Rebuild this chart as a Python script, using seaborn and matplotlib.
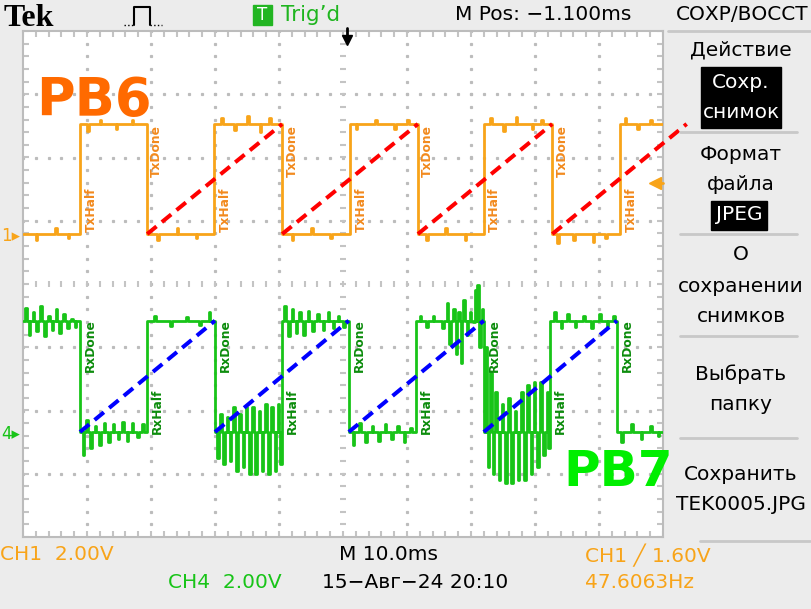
"""Tek scope screenshot: PB6 / PB7 DMA half / done timing."""

import matplotlib as mpl
mpl.use("Agg")
import matplotlib.pyplot as plt
from matplotlib.lines import Line2D
from matplotlib.patches import Rectangle
import numpy as np
import pandas as pd
import seaborn as sns

W, H = 812, 609

# --- data (screen divisions: x 0..10, y -4..4) ---
ch1_low, ch1_high = 0.79, 2.53
ch4_low, ch4_high = -2.34, -0.58

ch1_rise = [0.89, 2.99, 5.11, 7.20, 9.33]
ch1_fall = [1.94, 4.05, 6.17, 8.27]
ch4_fall = [0.89, 3.00, 5.09, 7.20, 9.28]
ch4_rise = [1.94, 4.05, 6.14, 8.23]

# hand-read glitches on each trace (time, value)
ch1_spike_t = [0.20, 0.50, 0.70, 1.00, 1.20, 1.45, 1.70, 2.10, 2.40, 2.70,
               3.10, 3.30, 3.50, 3.70, 3.85, 4.20, 4.50, 4.80, 5.20, 5.50,
               5.80, 6.00, 6.30, 6.60, 6.90, 7.30, 7.50, 7.70, 7.95, 8.10,
               8.35, 8.60, 8.90, 9.10, 9.40, 9.60, 9.80]
ch1_spike_v = [0.70, 0.88, 0.72, 2.42, 2.60, 2.45, 2.60, 0.70, 0.88, 0.72,
               2.62, 2.43, 2.65, 2.40, 2.62, 0.70, 0.88, 0.72, 2.45, 2.60,
               2.45, 2.60, 0.70, 0.88, 0.70, 2.63, 2.42, 2.64, 2.45, 2.60,
               0.65, 0.70, 0.66, 0.72, 2.62, 2.45, 2.60]

ch4_spike_t = [0.03, 0.09, 0.15, 0.21, 0.27, 0.33, 0.39, 0.45, 0.51, 0.57, 0.63, 0.69, 0.75, 0.81,
               0.93, 0.99, 1.05, 1.12, 1.19, 1.26, 1.33, 1.40, 1.48, 1.55, 1.62, 1.70, 1.78, 1.86,
               2.05, 2.30, 2.55, 2.75, 2.90,
               3.03, 3.08, 3.13, 3.18, 3.23, 3.28, 3.33, 3.38, 3.43, 3.48, 3.53, 3.58, 3.63,
               3.68, 3.73, 3.78, 3.83, 3.88, 3.93, 3.98, 4.02,
               4.08, 4.14, 4.20, 4.26, 4.32, 4.38, 4.45, 4.52, 4.60, 4.68, 4.76, 4.84, 4.92, 5.00,
               5.15, 5.25, 5.35, 5.45, 5.55, 5.65, 5.75, 5.85, 5.95, 6.05,
               6.20, 6.30, 6.40, 6.55, 6.62, 6.66, 6.72, 6.76, 6.80, 6.84, 6.88, 6.93, 6.98,
               7.03, 7.07, 7.10, 7.13, 7.17,
               7.23, 7.26, 7.30, 7.34, 7.38, 7.43, 7.48, 7.53, 7.58, 7.63, 7.68, 7.73, 7.78,
               7.83, 7.88, 7.93, 7.98, 8.03, 8.08, 8.13, 8.18, 8.21,
               8.30, 8.40, 8.50, 8.62, 8.75, 8.88, 9.00, 9.12, 9.22,
               9.35, 9.50, 9.65, 9.80, 9.92]
ch4_spike_v = [-0.38, -0.80, -0.45, -0.75, -0.35, -0.82, -0.50, -0.72, -0.40, -0.78, -0.48, -0.70, -0.55, -0.68,
               -2.70, -2.15, -2.60, -2.25, -2.55, -2.20, -2.50, -2.22, -2.45, -2.18, -2.48, -2.20, -2.42, -2.22,
               -0.50, -0.66, -0.52, -0.65, -0.45,
               -2.75, -2.05, -2.85, -2.10, -2.80, -1.95, -2.95, -2.05, -2.90, -1.95, -3.00, -1.95, -3.00,
               -2.00, -2.95, -1.90, -3.00, -1.95, -2.95, -1.90, -2.85,
               -0.35, -0.82, -0.40, -0.78, -0.45, -0.80, -0.42, -0.75, -0.48, -0.72, -0.45, -0.70, -0.50, -0.68,
               -2.55, -2.20, -2.50, -2.25, -2.48, -2.22, -2.45, -2.25, -2.50, -2.28,
               -0.50, -0.68, -0.50, -0.70, -0.30, -0.95, -0.40, -1.10, -0.45, -1.25, -0.25, -0.80, -0.45,
               -0.60, -0.10, -0.02, -1.00, -0.40,
               -1.00, -2.90, -1.40, -3.00, -1.70, -3.10, -1.90, -3.15, -1.80, -3.15, -2.00, -3.10, -1.70,
               -3.10, -1.60, -3.00, -1.55, -2.90, -1.55, -2.70, -1.70, -2.60,
               -0.45, -0.70, -0.48, -0.68, -0.50, -0.70, -0.48, -0.66, -0.50,
               -2.50, -2.22, -2.45, -2.25, -2.40]

red_x0 = [1.94, 4.05, 6.17, 8.27]
red_x1 = [4.05, 6.17, 8.27, 10.37]
blue_x0 = [0.89, 3.00, 5.09, 7.20]
blue_x1 = [3.00, 5.09, 7.20, 9.28]

menu_items = [("Действие", 50), ("Формат", 154), ("файла", 184), ("О", 255),
              ("сохранении", 286), ("снимков", 317), ("Выбрать", 374),
              ("папку", 404), ("Сохранить", 475), ("TEK0005.JPG", 505)]
menu_lines = [132, 234, 336, 438]

C_ORANGE = "#f8a419"
C_GREEN = "#18c418"
C_TXT_OR = "#f28a1e"
C_TXT_GR = "#0c8c0c"


def build_trace(rise, fall, low, high, start_high, sp_t, sp_v, w=0.025):
    events = [(t, "e", high) for t in rise] + [(t, "e", low) for t in fall]
    events += [(t, "s", v) for t, v in zip(sp_t, sp_v)]
    events.sort(key=lambda e: e[0])
    level = high if start_high else low
    pts = [(0.0, level)]
    for t, kind, v in events:
        if kind == "e":
            pts += [(t, level), (t, v)]
            level = v
        else:
            pts += [(t, level), (t, v), (t + w, v), (t + w, level)]
    pts.append((10.0, level))
    return pts


def fx(px):
    return px / W


def fy(py):
    return 1 - py / H


sns.set_theme(style="white")
plt.rcParams["font.family"] = ["DejaVu Sans"]
plt.rcParams["text.color"] = "black"

fig = plt.figure(figsize=(W / 100, H / 100), dpi=100)
fig.patch.set_facecolor("#ececec")
ax = fig.add_axes([fx(23), fy(537), 640 / W, 506 / H])
ax.set_facecolor("white")
ax.set_xlim(0, 10)
ax.set_ylim(-4, 4)
ax.set_xticks([])
ax.set_yticks([])
for s in ax.spines.values():
    s.set_color("#bcbcbc")
    s.set_linewidth(1.5)

# graticule
fine = np.arange(0, 10.001, 0.2)
fine_y = np.arange(-4, 4.001, 0.2)
for xi in [1, 2, 3, 4, 6, 7, 8, 9]:
    ax.plot(np.full_like(fine_y, xi), fine_y, ls="none", marker="s", ms=1.3,
            color="#bcbcbc", zorder=1)
for yi in [-3, -2, -1, 1, 2, 3]:
    ax.plot(fine, np.full_like(fine, yi), ls="none", marker="s", ms=1.3,
            color="#bcbcbc", zorder=1)
tk = dict(color="#c4c4c4", lw=1.5, zorder=1)
ax.hlines(fine_y, 4.95, 5.05, **tk)
ax.vlines(fine, -0.05, 0.05, **tk)
ax.hlines(fine_y, 0, 0.1, **tk)
ax.hlines(fine_y, 9.9, 10, **tk)
ax.vlines(fine, 3.9, 4, **tk)
ax.vlines(fine, -4, -3.9, **tk)

# traces
rows = []
for ch, pts in [("CH1", build_trace(ch1_rise, ch1_fall, ch1_low, ch1_high, False,
                                    ch1_spike_t, ch1_spike_v)),
                ("CH4", build_trace(ch4_rise, ch4_fall, ch4_low, ch4_high, True,
                                    ch4_spike_t, ch4_spike_v))]:
    for i, (t, v) in enumerate(pts):
        rows.append({"t": t, "v": v, "ch": ch, "i": i})
df = pd.DataFrame(rows)
sns.lineplot(data=df, x="t", y="v", hue="ch", estimator=None, sort=False,
             palette={"CH1": C_ORANGE, "CH4": C_GREEN}, linewidth=2.0,
             legend=False, ax=ax, zorder=3)
ax.set_xlabel("")
ax.set_ylabel("")

# labels
lab = dict(rotation=90, fontsize=8.8, fontweight="bold", zorder=4)
for t in ch1_rise:
    ax.text(t + 0.07, ch1_low + 0.04, "TxHalf", color=C_TXT_OR, ha="left", va="bottom", **lab)
for t in ch1_fall:
    ax.text(t + 0.05, ch1_high - 0.02, "TxDone", color=C_TXT_OR, ha="left", va="top", **lab)
for t in ch4_fall:
    ax.text(t + 0.06, ch4_high + 0.03, "RxDone", color=C_TXT_GR, ha="left", va="top", **lab)
for t in ch4_rise:
    ax.text(t + 0.06, ch4_low - 0.03, "RxHalf", color=C_TXT_GR, ha="left", va="bottom", **lab)

# dashed guides
for x0, x1 in zip(red_x0, red_x1):
    ax.plot([x0, x1], [ch1_low, ch1_high], color="#ff0000", lw=2.9,
            dashes=(3, 1.7), clip_on=False, zorder=5)
for x0, x1 in zip(blue_x0, blue_x1):
    ax.plot([x0, x1], [ch4_low, ch4_high], color="#0000ff", lw=2.9,
            dashes=(3, 1.7), zorder=5)

ax.text(0.2, 2.9, "PB6", color="#ff6a00", fontsize=38, fontweight="bold",
        ha="left", va="center", zorder=6)
ax.text(8.45, -2.97, "PB7", color="#00ee00", fontsize=36, fontweight="bold",
        ha="left", va="center", zorder=6, clip_on=False)

# trigger markers
ax.plot([9.87], [1.59], marker="<", ms=8, color=C_ORANGE, clip_on=False, zorder=6)
ax.plot([9.87, 10.0], [1.59, 1.59], color=C_ORANGE, lw=2, clip_on=False, zorder=6)
ax.plot([5.06], [3.85], marker="v", ms=7, color="black", clip_on=False, zorder=6)
ax.plot([5.06, 5.06], [3.88, 4.05], color="black", lw=2, clip_on=False, zorder=6)

# top status bar
fig.text(fx(4), fy(26), "Tek", family="Liberation Serif", fontweight="bold",
         fontsize=23, va="baseline", ha="left")
icon_x = [134, 134, 150, 150]
icon_y = [25, 7, 7, 25]
fig.add_artist(Line2D([fx(v) for v in icon_x], [fy(v) for v in icon_y],
                      color="black", lw=1.5))
fig.add_artist(Line2D([fx(124), fx(134)], [fy(25), fy(25)], color="black", lw=1, ls=":"))
fig.add_artist(Line2D([fx(150), fx(162)], [fy(25), fy(25)], color="black", lw=1, ls=":"))
fig.add_artist(Rectangle((fx(253), fy(25)), fx(19), 20 / H, color="#22b522"))
fig.text(fx(262.5), fy(15), "T", color="white", fontsize=12, ha="center", va="center")
fig.text(fx(281), fy(15), "Trig\u2019d", color="#1fb51f", fontsize=15.5, ha="left", va="center")
fig.text(fx(455), fy(15), "M Pos: \u22121.100ms", fontsize=14.5, ha="left", va="center")
fig.text(fx(809), fy(15), "СОХР/ВОССТ", fontsize=14.5, ha="right", va="center")

# right menu
fig.add_artist(Line2D([fx(668), fx(810)], [fy(31), fy(31)], color="#c8c8c8", lw=2))
for y in menu_lines:
    fig.add_artist(Line2D([fx(680), fx(797)], [fy(y), fy(y)], color="#c8c8c8", lw=2))
fig.add_artist(Line2D([fx(700), fx(810)], [fy(541), fy(541)], color="#c8c8c8", lw=2))
for txt, y in menu_items:
    fig.text(fx(741), fy(y), txt, fontsize=14.5, ha="center", va="center")
fig.add_artist(Rectangle((fx(701), fy(128)), fx(80), 61 / H, color="black"))
fig.text(fx(741), fy(83), "Сохр.", color="white", fontsize=14.5, ha="center", va="center")
fig.text(fx(741), fy(113), "снимок", color="white", fontsize=14.5, ha="center", va="center")
fig.add_artist(Rectangle((fx(711), fy(230)), fx(56), 29 / H, color="black"))
fig.text(fx(739), fy(215), "JPEG", color="white", fontsize=14.5, ha="center", va="center")

# channel ground markers
fig.text(fx(1), fy(236), "1\u25b8", color=C_ORANGE, fontsize=12, ha="left", va="center")
fig.text(fx(1), fy(434), "4\u25b8", color=C_GREEN, fontsize=12, ha="left", va="center")

# bottom status
fs = 14.5
fig.text(fx(0), fy(555), "CH1  2.00V", color=C_ORANGE, fontsize=fs, ha="left", va="center")
fig.text(fx(339), fy(555), "M 10.0ms", fontsize=fs, ha="left", va="center")
fig.text(fx(585), fy(555), "CH1 \u2571 1.60V", color=C_ORANGE, fontsize=fs, ha="left", va="center")
fig.text(fx(168), fy(582), "CH4  2.00V", color=C_GREEN, fontsize=fs, ha="left", va="center")
fig.text(fx(322), fy(582), "15\u2212Авг\u221224 20:10", fontsize=fs, ha="left", va="center")
fig.text(fx(585), fy(582), "47.6063Hz", color=C_ORANGE, fontsize=fs, ha="left", va="center")

plt.savefig("out.png", dpi=100, facecolor=fig.get_facecolor())
